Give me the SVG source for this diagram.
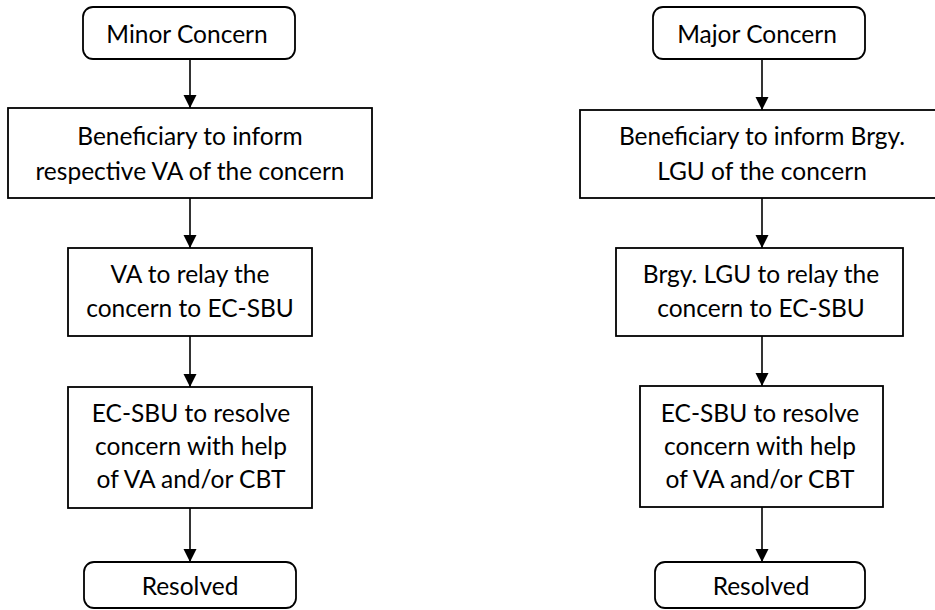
<svg xmlns="http://www.w3.org/2000/svg" width="935" height="610" viewBox="0 0 935 610">
<style>
.b{fill:#fff;stroke:#000;stroke-width:1.8}
.t{font-family:Lato,"Open Sans",sans-serif;font-size:24.5px;fill:#000;text-anchor:middle}
.c{stroke:#000;stroke-width:1.6;fill:none}
</style>
<defs>
<marker id="a" markerUnits="userSpaceOnUse" markerWidth="14" markerHeight="14" viewBox="0 0 14 14" refX="13" refY="7" orient="auto">
<path d="M0,0.5 L13,7 L0,13.5 Z" fill="#000"/>
</marker>
</defs>
<rect width="935" height="610" fill="#fff"/>
<g id="connectors">
<line class="c" x1="190" y1="59" x2="190" y2="108" marker-end="url(#a)"/>
<line class="c" x1="190" y1="198" x2="190" y2="248" marker-end="url(#a)"/>
<line class="c" x1="190" y1="336" x2="190" y2="387" marker-end="url(#a)"/>
<line class="c" x1="190" y1="508" x2="190" y2="562" marker-end="url(#a)"/>
<line class="c" x1="762" y1="59" x2="762" y2="110" marker-end="url(#a)"/>
<line class="c" x1="762" y1="198" x2="762" y2="248" marker-end="url(#a)"/>
<line class="c" x1="762" y1="336" x2="762" y2="386" marker-end="url(#a)"/>
<line class="c" x1="762" y1="507" x2="762" y2="562" marker-end="url(#a)"/>
</g>
<g id="minor">
<rect class="b" x="83" y="7" width="212" height="52" rx="10"/>
<text class="t" x="187" y="43">Minor Concern</text>
</g>
<g id="l2">
<rect class="b" x="8" y="108" width="364" height="90"/>
<text class="t" x="190" y="145">Beneficiary to inform</text>
<text class="t" x="190" y="180">respective VA of the concern</text>
</g>
<g id="l3">
<rect class="b" x="68" y="248" width="244" height="88"/>
<text class="t" x="190" y="283">VA to relay the</text>
<text class="t" x="190" y="317">concern to EC-SBU</text>
</g>
<g id="l4">
<rect class="b" x="68" y="387" width="244" height="121"/>
<text class="t" x="191" y="422">EC-SBU to resolve</text>
<text class="t" x="191" y="455">concern with help</text>
<text class="t" x="191" y="488">of VA and/or CBT</text>
</g>
<g id="l5">
<rect class="b" x="84" y="562" width="212" height="46" rx="10"/>
<text class="t" x="190" y="595">Resolved</text>
</g>
<g id="major">
<rect class="b" x="653" y="7" width="212" height="52" rx="10"/>
<text class="t" x="757" y="43">Major Concern</text>
</g>
<g id="r2">
<rect class="b" x="580" y="110" width="364" height="88"/>
<text class="t" x="762" y="145">Beneficiary to inform Brgy.</text>
<text class="t" x="762" y="180">LGU of the concern</text>
</g>
<g id="r3">
<rect class="b" x="616" y="248" width="287" height="88"/>
<text class="t" x="761" y="283">Brgy. LGU to relay the</text>
<text class="t" x="761" y="317">concern to EC-SBU</text>
</g>
<g id="r4">
<rect class="b" x="640" y="386" width="243" height="121"/>
<text class="t" x="760" y="422">EC-SBU to resolve</text>
<text class="t" x="760" y="455">concern with help</text>
<text class="t" x="760" y="488">of VA and/or CBT</text>
</g>
<g id="r5">
<rect class="b" x="655" y="562" width="210" height="46" rx="10"/>
<text class="t" x="761" y="595">Resolved</text>
</g>
</svg>
